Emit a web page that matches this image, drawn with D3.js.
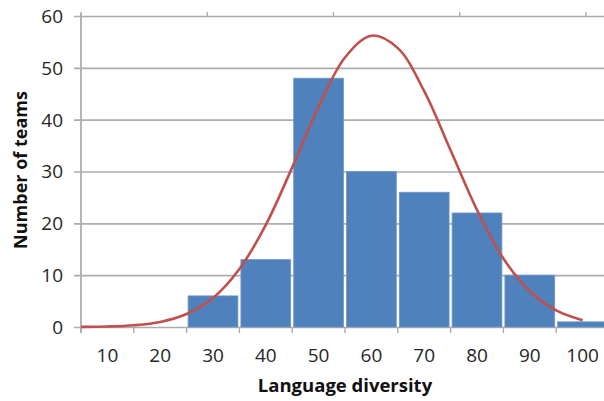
<!DOCTYPE html>
<html>
<head>
<meta charset="utf-8">
<script src="https://cdn.jsdelivr.net/npm/d3@7"></script>
<style>
  html, body { margin: 0; padding: 0; background: #fff; overflow: hidden; }
  svg { display: block; }
</style>
</head>
<body>
<svg id="chart" width="604" height="401"></svg>
<script>
// Histogram bins (language diversity) and team counts
const categories = ["10", "20", "30", "40", "50", "60", "70", "80", "90", "100"];
const counts = [0, 0, 6, 13, 48, 30, 26, 22, 10, 1];
const yTicks = [0, 10, 20, 30, 40, 50, 60];

// Fitted normal curve, sampled along language diversity
const curveX = [5, 10, 15, 20, 25, 30, 35, 40, 45, 50, 55, 60, 65, 70, 75, 80, 85, 90, 95, 100];
const curveY = [0.03, 0.1, 0.34, 0.97, 2.5, 5.6, 11.2, 19.7, 30.8, 42.5, 52.0, 56.2, 53.8, 45.5, 34.1, 22.6, 13.2, 6.9, 3.2, 1.3];

// Secondary (top) axis ticks, unlabeled
const topTicks = [0, 30, 60, 90, 120];

const svg = d3.select("#chart");
const plotLeft = 81, plotRight = 609, plotTop = 16, plotBottom = 327;

const x = d3.scaleBand().domain(categories).range([plotLeft, plotRight]).padding(0);
const xv = d3.scaleLinear().domain([5, 105]).range([plotLeft, plotRight]);
const xTop = d3.scaleLinear().domain([0, 120]).range([plotLeft, 586]);
const y = d3.scaleLinear().domain([0, 60]).range([plotBottom, plotTop]);

const gridColor = "#adadad";
const textColor = "#262626";
const font = "'Open Sans', 'DejaVu Sans', sans-serif";

// Horizontal gridlines with short outward ticks
svg.append("g").selectAll("line").data(yTicks).join("line")
  .attr("x1", plotLeft - 7).attr("x2", 604)
  .attr("y1", d => y(d) + 0.5).attr("y2", d => y(d) + 0.5)
  .attr("stroke", gridColor).attr("stroke-width", 1.6);

// Top secondary axis tick marks
svg.append("g").selectAll("line").data(topTicks).join("line")
  .attr("x1", d => xTop(d)).attr("x2", d => xTop(d))
  .attr("y1", y(60) - 4).attr("y2", y(60))
  .attr("stroke", gridColor).attr("stroke-width", 1.4);

// Bars
svg.append("g").selectAll("rect").data(categories).join("rect")
  .attr("x", d => x(d) + 1.5)
  .attr("width", x.bandwidth() - 3)
  .attr("y", (d, i) => y(counts[i]))
  .attr("height", (d, i) => y(0) - y(counts[i]))
  .attr("fill", "#4f81bd")
  .attr("stroke", "#6f97c9")
  .attr("stroke-width", 0.8);

// Vertical axis line
svg.append("line")
  .attr("x1", plotLeft).attr("x2", plotLeft)
  .attr("y1", y(60) - 3).attr("y2", plotBottom + 6)
  .attr("stroke", gridColor).attr("stroke-width", 1.8);

// Bottom axis boundary ticks
const bounds = categories.map(c => x(c)).concat([plotRight]);
svg.append("g").selectAll("line").data(bounds).join("line")
  .attr("x1", d => d).attr("x2", d => d)
  .attr("y1", plotBottom).attr("y2", plotBottom + 6)
  .attr("stroke", gridColor).attr("stroke-width", 1.4);

// Normal curve
const line = d3.line()
  .x((d, i) => xv(curveX[i]))
  .y(d => y(d))
  .curve(d3.curveCatmullRom);
svg.append("path")
  .datum(curveY)
  .attr("d", line)
  .attr("fill", "none")
  .attr("stroke", "#c0504d")
  .attr("stroke-width", 2.6);

// Y tick labels
svg.append("g").selectAll("text").data(yTicks).join("text")
  .attr("x", 63).attr("y", d => y(d))
  .attr("dy", "0.36em")
  .attr("text-anchor", "end")
  .attr("font-family", font).attr("font-size", 19)
  .attr("fill", textColor)
  .text(d => d);

// X tick labels
svg.append("g").selectAll("text").data(categories).join("text")
  .attr("x", d => x(d) + x.bandwidth() / 2).attr("y", 362)
  .attr("text-anchor", "middle")
  .attr("font-family", font).attr("font-size", 19)
  .attr("fill", textColor)
  .text(d => d);

// Axis titles
svg.append("text")
  .attr("x", 345).attr("y", 392)
  .attr("text-anchor", "middle")
  .attr("font-family", font).attr("font-size", 18.5).attr("font-weight", "bold")
  .attr("fill", "#111")
  .text("Language diversity");

svg.append("text")
  .attr("transform", "translate(27,170) rotate(-90)")
  .attr("text-anchor", "middle")
  .attr("font-family", font).attr("font-size", 18).attr("font-weight", "bold")
  .attr("fill", "#111")
  .text("Number of teams");
</script>
</body>
</html>
